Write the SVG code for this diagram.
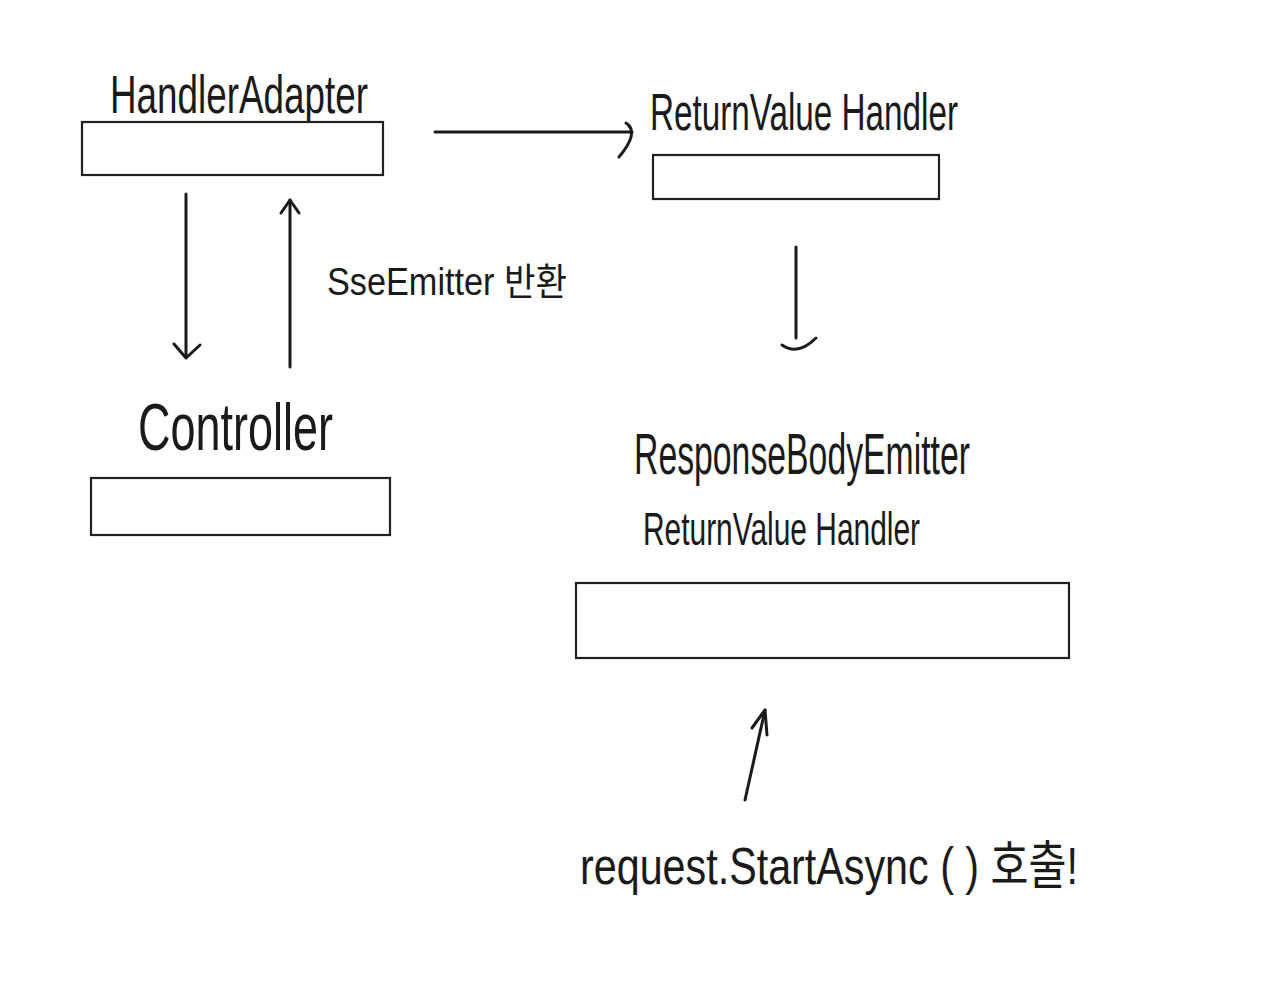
<svg xmlns="http://www.w3.org/2000/svg" width="1277" height="1000" viewBox="0 0 1277 1000">
<style>
.box{fill:#fff;stroke:#231f20;stroke-width:2.2}
.t{font-family:"Liberation Sans","Noto Sans CJK KR",sans-serif;fill:#1a1a1a}
.c{fill:none;stroke:#1a1a1a;stroke-width:3;stroke-linecap:round;stroke-linejoin:round}
</style>
<rect width="1277" height="1000" fill="#fff"/>
<g id="handler-adapter">
<text class="t" x="110" y="113" font-size="54" textLength="258" lengthAdjust="spacingAndGlyphs">HandlerAdapter</text>
<rect class="box" x="82" y="122" width="301" height="53"/>
</g>
<g id="return-value-handler">
<text class="t" x="650" y="130" font-size="52" textLength="308" lengthAdjust="spacingAndGlyphs">ReturnValue Handler</text>
<rect class="box" x="653" y="155" width="286" height="44"/>
</g>
<g id="controller">
<text class="t" x="138" y="450" font-size="66" textLength="195" lengthAdjust="spacingAndGlyphs">Controller</text>
<rect class="box" x="91" y="478" width="299" height="57"/>
</g>
<g id="response-body-emitter-handler">
<text class="t" x="634" y="474" font-size="58" textLength="336" lengthAdjust="spacingAndGlyphs">ResponseBodyEmitter</text>
<text class="t" x="643" y="545" font-size="46" textLength="277" lengthAdjust="spacingAndGlyphs">ReturnValue Handler</text>
<rect class="box" x="576" y="583" width="493" height="75"/>
</g>
<g id="labels">
<text class="t" x="327" y="295" font-size="38" textLength="240" lengthAdjust="spacingAndGlyphs">SseEmitter  반환</text>
<text class="t" x="580" y="884" font-size="52" textLength="498" lengthAdjust="spacingAndGlyphs">request.StartAsync ( ) 호출!</text>
</g>
<g id="connectors">
<path class="c" d="M435,132 L632,132"/>
<path class="c" d="M626,123 Q640,132 619,157"/>
<path class="c" d="M186,194 L186,357"/>
<path class="c" d="M174,344 L186,358 L200,345"/>
<path class="c" d="M290,367 L290,200"/>
<path class="c" d="M281,213 L290,200 L299,213"/>
<path class="c" d="M796,247 L796,338"/>
<path class="c" d="M782,345 Q798,356 816,338"/>
<path class="c" d="M745,800 L765,710"/>
<path class="c" d="M752,728 L765,710 L767,735"/>
</g>
</svg>
